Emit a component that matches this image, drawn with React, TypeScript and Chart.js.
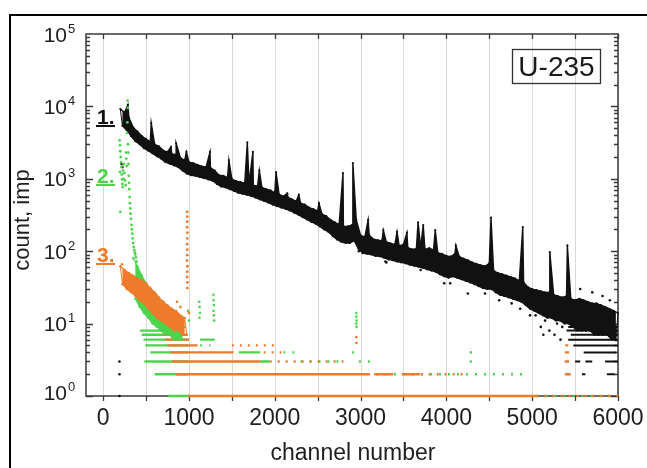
import React, { useEffect, useRef } from "react";
import { Chart, registerables } from "chart.js";

Chart.register(...registerables);

const W = 647;
const H = 468;
const FONT = '"Liberation Sans", Arial, Helvetica, sans-serif';
const BLACK = "#111111";
const GREEN = "#4cd44c";
const ORANGE = "#ee7b2c";

// ---- axes ----
const X_MIN = -200;
const X_MAX = 6000;
const xTickLabels = [0, 1000, 2000, 3000, 4000, 5000, 6000];
const X_GRID_STEP = 500;
const yDecades = [0, 1, 2, 3, 4, 5];

// ---- spectrum 1 (black): band envelope, sampled every 50 channels ----
const BLACK_START = 200;
const BAND_STEP = 50;
// upper edge at channels 200, 250, ... 6000
const blackUpper = [
  9200, 8200, 7000, 5100, 4500, 3900, 3550, 3250, 3000, 2800,
  2450, 2350, 2200, 2150, 1950, 1800, 1700, 1650, 1560, 1480,
  1460, 1420, 1300, 1120, 1100, 1040, 990, 930, 900, 870,
  860, 810, 800, 760, 720, 690, 640, 610, 570, 560,
  520, 490, 460, 440, 400, 380, 360, 325, 305, 270,
  250, 232, 222, 220, 230, 270, 165, 158, 168, 146,
  142, 140, 134, 128, 124, 118, 124, 112, 106, 108,
  112, 106, 110, 104, 95, 92, 86, 84, 92, 84,
  79, 75, 70, 67, 64, 62, 68, 54, 50, 48,
  46, 44, 42, 39, 37, 32, 30, 29, 28, 27,
  27, 25, 24, 23, 24, 22, 21, 22, 21, 20,
  19, 19, 18, 17, 16, 15, 14,
];
// lower edge at channels 225, 275, ... 5975
const blackLower = [
  5400, 4700, 3900, 3300, 3000, 2650, 2450, 2250, 2050, 1900,
  1700, 1620, 1530, 1450, 1300, 1180, 1120, 1100, 1060, 1020,
  980, 940, 850, 780, 760, 720, 680, 640, 620, 600,
  580, 550, 520, 495, 470, 440, 420, 400, 385, 365,
  340, 320, 295, 275, 255, 240, 220, 200, 185, 162,
  145, 135, 130, 130, 140, 108, 94, 92, 90, 86,
  85, 81, 77, 75, 72, 70, 68, 65, 63, 61,
  59, 56, 54, 52, 48, 45, 43, 45, 43, 41,
  39, 37, 35, 33, 31, 30, 30, 27, 25, 24,
  23, 22, 21, 20, 18, 16, 15, 14, 13, 12,
  12, 11, 11, 10, 10, 9, 8, 8, 8, 8,
  7, 7, 7, 7, 6, 6,
];
// [channel, peak count]
const blackPeaks: [number, number][] = [
  [288, 10500], [560, 5900], [790, 2750], [850, 3100], [970, 2350],
  [1245, 2350], [1465, 1800], [1680, 3200], [1745, 2350], [1820, 1300],
  [2015, 1240], [2145, 630], [2280, 600], [2515, 460], [2795, 1200],
  [2910, 1650], [3088, 270], [3265, 195], [3425, 185], [3540, 180],
  [3670, 250], [3730, 230], [3870, 195], [4110, 120], [4520, 290],
  [4890, 215], [5205, 97], [5410, 120],
];
const blackStray: [number, number][] = [
  [190, 1], [190, 2], [190, 3], [215, 1600], [225, 1450],
  [2980, 100], [3290, 72], [3300, 70], [3700, 55], [3975, 36],
  [4045, 36], [4250, 26], [4450, 26], [4615, 21], [4760, 19],
  [4860, 16], [4975, 13], [5040, 13], [5100, 9], [5130, 7],
  [5150, 11], [5200, 8], [5260, 7], [5290, 10], [5330, 6],
  [5350, 9], [5560, 30], [5700, 27], [5820, 24], [5905, 21],
];
// [count level, from channel, to channel]
const blackRows: [number, number, number][] = [
  [9, 5420, 6000], [8, 5400, 6000], [7, 5450, 6000], [6, 5420, 6000],
  [5, 5480, 6000], [4, 5600, 5980], [3, 5500, 5560], [3, 5620, 5700],
  [3, 5850, 6000], [2, 5580, 5620], [2, 5870, 5960],
];

// ---- spectrum 2 (green) ----
const greenSpike: [number, number][] = [
  [192, 3400], [196, 2900], [200, 2400], [204, 2000], [208, 1700],
  [212, 1450], [196, 1250], [216, 1150], [220, 980], [224, 850],
  [228, 770], [232, 1300], [236, 1000], [200, 350], [240, 1600],
  [248, 1200], [255, 950], [262, 820], [266, 2300], [270, 1900],
  [274, 1500], [278, 4300], [282, 6000], [285, 12000], [288, 9500],
  [290, 3000], [293, 2300], [296, 1600], [299, 1100], [302, 880],
  [305, 720], [308, 560], [312, 460], [316, 390], [320, 330],
  [325, 280], [330, 230], [335, 200], [340, 175], [345, 150],
  [350, 130], [356, 115], [362, 104], [368, 96], [375, 90],
  [382, 82], [390, 72],
];
const GREEN_START = 350;
const greenUpper = [80, 62, 46, 36, 28, 22, 18, 15, 13, 12, 11, 10, 9];
const greenLower = [22, 17, 14, 12, 10, 9, 8, 7, 7, 6, 6, 6];
const greenStray: [number, number][] = [
  [620, 25], [700, 20], [990, 15], [1000, 11], [1120, 20],
  [1124, 17], [1128, 14], [1122, 12], [1285, 25], [1288, 21],
  [1291, 18], [1286, 15], [1290, 13], [1293, 11], [2950, 14],
  [2952, 12.5], [2954, 11], [2950, 10], [2953, 9], [4285, 4], [4285, 3],
];
const greenRows: [number, number, number][] = [
  [1, 760, 1000], [2, 600, 990], [3, 480, 990], [4, 550, 990],
  [5, 490, 990], [6, 470, 1000], [7, 450, 920], [8, 430, 870],
  [6, 1130, 1300], [4, 1580, 1830], [3, 1830, 1940],
];
const greenRowsSparse: [number, number, number][] = [
  [1, 5050, 6000], [2, 3180, 4950], [3, 2980, 3130], [4, 2100, 2300],
  [4, 2900, 3000], [5, 1130, 1250], [3, 2300, 2800],
];

// ---- spectrum 3 (orange) ----
const ORANGE_START = 200;
const orangeUpper = [62, 55, 50, 46, 42, 40, 36, 31, 27, 23, 20, 18, 16, 15, 13, 12];
const orangeLower = [35, 30, 27, 24, 21, 19, 16, 14, 12, 11, 10, 9, 8, 8, 7, 7];
const orangeSpike: [number, number][] = [
  [979, 350], [981, 300], [980, 255], [978, 215], [982, 180],
  [980, 150], [979, 125], [981, 105], [980, 88], [978, 74],
  [982, 62], [980, 52], [979, 44], [981, 37], [980, 31],
];
const orangeStray: [number, number][] = [
  [220, 66], [860, 20], [900, 17], [1000, 14], [2950, 6.5], [2953, 5.4],
];
const orangeRows: [number, number, number][] = [
  [1, 990, 5050], [2, 850, 3110], [2, 3160, 3380], [2, 3480, 3690],
  [3, 800, 1830], [4, 780, 1520], [5, 750, 1100], [6, 720, 1000],
  [7, 700, 980], [8, 680, 950], [9, 660, 920], [2, 5380, 5450],
  [3, 5380, 5430], [4, 5380, 5430], [5, 5385, 5420],
];
const orangeRowsSparse: [number, number, number][] = [
  [1, 5050, 6000], [3, 1940, 2800], [4, 1870, 2100], [5, 1500, 2050],
  [2, 3700, 4200],
];

type Pt = { x: number; y: number | null };

const edgePoints = (values: number[], start: number, extra: [number, number][] = []): Pt[] => {
  const pts: Pt[] = values.map((v, i) => ({ x: start + i * BAND_STEP, y: v }));
  extra.forEach(([x, y]) => pts.push({ x, y }));
  return pts.sort((a, b) => a.x - b.x);
};

const zigzagPoints = (upper: number[], lower: number[], start: number): Pt[] => {
  const pts: Pt[] = [];
  upper.forEach((v, i) => pts.push({ x: start + i * BAND_STEP, y: v }));
  lower.forEach((v, i) => pts.push({ x: start + BAND_STEP / 2 + i * BAND_STEP, y: v }));
  return pts.sort((a, b) => a.x - b.x);
};

const pairPoints = (pairs: [number, number][]): Pt[] => pairs.map(([x, y]) => ({ x, y }));

const rowPoints = (rows: [number, number, number][]): Pt[] =>
  rows.flatMap(([lvl, a, b]) => [
    { x: a, y: lvl },
    { x: b, y: lvl },
    { x: b, y: null },
  ]);

const lineSet = (
  label: string,
  data: Pt[],
  color: string,
  width: number,
  order: number,
  dash: number[] = [],
  fill: any = false,
  radius = 0
) => ({
  label,
  data,
  showLine: true,
  spanGaps: false,
  borderColor: color,
  backgroundColor: color,
  borderWidth: width,
  borderDash: dash,
  pointRadius: radius,
  pointBorderWidth: 0,
  tension: 0,
  fill,
  clip: false as const,
  order,
});

const dotSet = (label: string, data: Pt[], color: string, radius: number, order: number) => ({
  label,
  data,
  showLine: false,
  borderColor: color,
  backgroundColor: color,
  borderWidth: 0,
  pointRadius: radius,
  clip: false as const,
  order,
});

const decorPlugin = {
  id: "decor",
  beforeDraw(chart: any) {
    const { ctx } = chart;
    ctx.save();
    ctx.fillStyle = "#ffffff";
    ctx.fillRect(0, 0, W, H);
    ctx.fillStyle = "#000000";
    ctx.fillRect(9, 14, W - 9, 2);
    ctx.fillRect(9, 14, 2, H - 14);
    ctx.restore();
  },
  beforeDatasetsDraw(chart: any) {
    const { ctx, chartArea: a, scales } = chart;
    const xs = scales.x;
    const ys = scales.y;
    ctx.save();
    ctx.strokeStyle = "#d8d8d8";
    ctx.lineWidth = 1;
    for (let v = 0; v <= X_MAX; v += X_GRID_STEP) {
      const px = Math.round(xs.getPixelForValue(v)) + 0.5;
      ctx.beginPath();
      ctx.moveTo(px, a.top);
      ctx.lineTo(px, a.bottom);
      ctx.stroke();
    }

    // frame of the plot
    ctx.strokeStyle = "#3a3a3a";
    ctx.lineWidth = 1.5;
    ctx.strokeRect(a.left, a.top, a.right - a.left, a.bottom - a.top);

    // x ticks (every 500 channels, bottom outward, top inward)
    ctx.lineWidth = 1.3;
    for (let v = 0; v <= X_MAX; v += X_GRID_STEP) {
      const px = Math.round(xs.getPixelForValue(v)) + 0.5;
      ctx.beginPath();
      ctx.moveTo(px, a.bottom);
      ctx.lineTo(px, a.bottom + 5);
      ctx.moveTo(px, a.top);
      ctx.lineTo(px, a.top + 5);
      ctx.stroke();
    }

    // y ticks (log decades and minor steps, inward on both sides)
    for (let d = 0; d < 5; d++) {
      for (let m = 1; m <= 9; m++) {
        const py = Math.round(ys.getPixelForValue(m * Math.pow(10, d))) + 0.5;
        const len = m === 1 ? 7 : 4;
        ctx.beginPath();
        ctx.moveTo(a.left, py);
        ctx.lineTo(a.left + len, py);
        ctx.moveTo(a.right, py);
        ctx.lineTo(a.right - len, py);
        ctx.stroke();
      }
    }
    ctx.restore();
  },
  afterDatasetsDraw(chart: any) {
    const { ctx, chartArea: a, scales } = chart;
    const xs = scales.x;
    const ys = scales.y;
    ctx.save();

    // x tick labels
    ctx.fillStyle = "#1e1e1e";
    ctx.font = `23px ${FONT}`;
    ctx.textAlign = "center";
    ctx.textBaseline = "alphabetic";
    xTickLabels.forEach((v) => {
      ctx.fillText(String(v), xs.getPixelForValue(v), a.bottom + 29);
    });

    // y tick labels as powers of ten
    yDecades.forEach((d) => {
      const py = ys.getPixelForValue(Math.pow(10, d));
      const base = py + (d === 0 ? 4 : 7.5);
      ctx.font = `21px ${FONT}`;
      ctx.textAlign = "right";
      ctx.fillText("10", a.left - 19, base);
      ctx.font = `13px ${FONT}`;
      ctx.textAlign = "left";
      ctx.fillText(String(d), a.left - 18, base - 9);
    });

    // axis titles
    ctx.font = `23px ${FONT}`;
    ctx.textAlign = "center";
    ctx.fillText("channel number", 353, 460);
    ctx.save();
    ctx.translate(29, 220);
    ctx.rotate(-Math.PI / 2);
    ctx.font = `22px ${FONT}`;
    ctx.fillText("count, imp", 0, 0);
    ctx.restore();

    // sample label
    ctx.strokeStyle = "#333333";
    ctx.lineWidth = 1.3;
    ctx.strokeRect(512.5, 49.5, 88, 34);
    ctx.fillStyle = "#1a1a1a";
    ctx.font = `28px ${FONT}`;
    ctx.textAlign = "center";
    ctx.fillText("U-235", 556.5, 76);

    // curve numbers
    const marks: [string, string, number][] = [
      ["1.", BLACK, 124],
      ["2.", GREEN, 183],
      ["3.", ORANGE, 262],
    ];
    marks.forEach(([t, c, base]) => {
      ctx.fillStyle = c;
      ctx.font = `bold 21px ${FONT}`;
      ctx.textAlign = "left";
      ctx.fillText(t, 97, base);
      ctx.fillRect(96, base + 1, 19, 2);
    });

    ctx.restore();
  },
};

export default function App() {
  const ref = useRef<HTMLCanvasElement | null>(null);

  useEffect(() => {
    if (!ref.current) return;
    const chart = new Chart(ref.current, {
      type: "scatter",
      data: {
        datasets: [
          dotSet("3 peak", pairPoints(orangeSpike), ORANGE, 1.4, 1),
          // orange band: upper edge filled down to the lower edge
          lineSet("3 upper", edgePoints(orangeUpper, ORANGE_START), ORANGE, 1.2, 2, [], "+1", 1.2),
          lineSet("3 lower", edgePoints(orangeLower, ORANGE_START + BAND_STEP / 2), ORANGE, 1.2, 2, [], false, 1.2),
          lineSet("3 texture", zigzagPoints(orangeUpper, orangeLower, ORANGE_START), ORANGE, 1, 2),
          dotSet("2 peak", pairPoints(greenSpike), GREEN, 1.4, 3),
          lineSet("2 upper", edgePoints(greenUpper, GREEN_START), GREEN, 1.2, 4, [], "+1", 1.2),
          lineSet("2 lower", edgePoints(greenLower, GREEN_START + BAND_STEP / 2), GREEN, 1.2, 4, [], false, 1.2),
          dotSet("3 stray", pairPoints(orangeStray), ORANGE, 1.3, 5),
          dotSet("2 stray", pairPoints(greenStray), GREEN, 1.3, 6),
          // black band with its peaks
          lineSet("1 upper", edgePoints(blackUpper, BLACK_START, blackPeaks), BLACK, 1.4, 7, [], "+1", 1.1),
          lineSet("1 lower", edgePoints(blackLower, BLACK_START + BAND_STEP / 2), BLACK, 1.4, 7, [], false, 1.1),
          lineSet("1 texture", zigzagPoints(blackUpper, blackLower, BLACK_START), BLACK, 1, 7),
          dotSet("1 stray", pairPoints(blackStray), BLACK, 1.3, 8),
          lineSet("1 rows", rowPoints(blackRows), BLACK, 2, 9),
          lineSet("3 rows", rowPoints(orangeRows), ORANGE, 2.4, 10),
          lineSet("3 sparse", rowPoints(orangeRowsSparse), ORANGE, 2.4, 11, [2, 6]),
          lineSet("2 rows", rowPoints(greenRows), GREEN, 2.4, 12),
          lineSet("2 sparse", rowPoints(greenRowsSparse), GREEN, 2.4, 13, [2, 7]),
        ] as any,
      },
      options: {
        animation: false,
        responsive: false,
        maintainAspectRatio: false,
        events: [],
        layout: { padding: { left: 0, top: 34, right: 29, bottom: 0 } },
        plugins: {
          legend: { display: false },
          tooltip: { enabled: false },
          filler: { propagate: false },
        },
        scales: {
          x: {
            type: "linear",
            min: X_MIN,
            max: X_MAX,
            ticks: { display: false },
            grid: { display: false },
            border: { display: false },
            afterFit: (s: any) => {
              s.height = 72;
            },
          },
          y: {
            type: "logarithmic",
            min: 1,
            max: 100000,
            ticks: { display: false },
            grid: { display: false },
            border: { display: false },
            afterFit: (s: any) => {
              s.width = 86;
            },
          },
        },
      },
      plugins: [decorPlugin],
    });
    return () => chart.destroy();
  }, []);

  return (
    <div style={{ position: "fixed", left: 0, top: 0, width: W, height: H, background: "#fff" }}>
      <canvas ref={ref} width={W} height={H} style={{ display: "block", width: W, height: H }} />
    </div>
  );
}
